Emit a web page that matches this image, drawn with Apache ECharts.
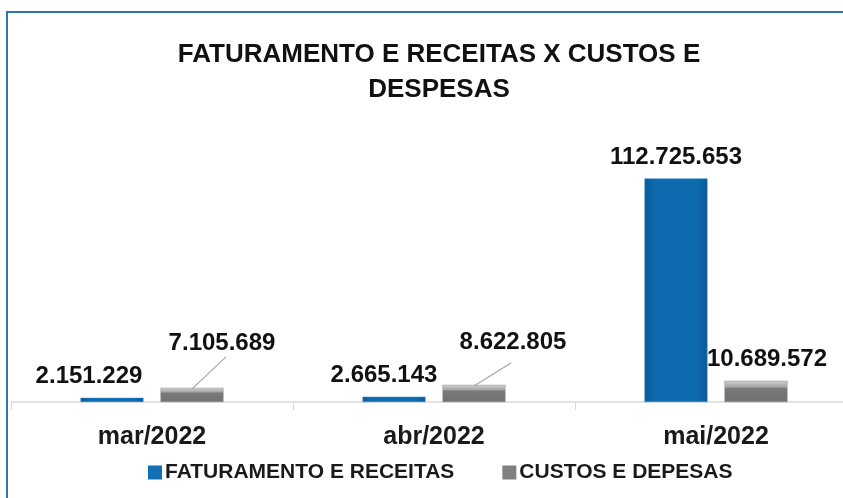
<!DOCTYPE html>
<html>
<head>
<meta charset="utf-8">
<script src="https://cdn.jsdelivr.net/npm/echarts@6/dist/echarts.min.js"></script>
<style>
	html, body { margin: 0; padding: 0; background: #fff; }
	#chart { width: 843px; height: 498px; }
</style>
</head>
<body>
<div id="chart"></div>
<script>
var months = ['mar/2022', 'abr/2022', 'mai/2022'];
var faturamento = [2151229, 2665143, 112725653];
var custos = [7105689, 8622805, 10689572];
var seriesNames = ['FATURAMENTO E RECEITAS', 'CUSTOS E DEPESAS'];

// formata 1234567 -> 1.234.567
function fmt(v) {
	return String(v).replace(/\B(?=(\d{3})+(?!\d))/g, '.');
}

var font = 'Liberation Sans';

var myChart = echarts.init(document.getElementById('chart'));

var blueFill = {
	type: 'linear', x: 0, y: 0, x2: 1, y2: 0,
	colorStops: [
		{ offset: 0, color: '#0b5a96' },
		{ offset: 0.15, color: '#0e6aae' },
		{ offset: 0.85, color: '#0e6aae' },
		{ offset: 1, color: '#0a5894' }
	]
};
var grayFill = {
	type: 'linear', x: 0, y: 0, x2: 0, y2: 1,
	colorStops: [
		{ offset: 0, color: '#d0d0d0' },
		{ offset: 0.3, color: '#a4a4a4' },
		{ offset: 0.35, color: '#7a7a7a' },
		{ offset: 1, color: '#707070' }
	]
};

// deslocamento dos rotulos (como no Excel)
var blueShift = [[-23, 0], [-10, 0], [0, 0]];
var grayShift = [[30, -28], [39, -26], [11, -4]];
// linhas guia: [dx, dy] a partir do topo da barra cinza
var guide = [[34, -31], [37, -22], null];
var barOff = 40;

var option = {
	animation: false,
	title: {
		text: 'FATURAMENTO E RECEITAS X CUSTOS E\nDESPESAS',
		left: 434,
		top: 32,
		textAlign: 'center',
		textStyle: {
			fontFamily: font,
			fontSize: 26,
			fontWeight: 'bold',
			color: '#111',
			lineHeight: 35
		}
	},
	graphic: [{
		type: 'rect',
		shape: { x: 7, y: 12, width: 900, height: 520 },
		style: { fill: 'none', stroke: '#2e75b6', lineWidth: 2 },
		silent: true
	}],
	legend: {
		left: 143,
		top: 457,
		itemWidth: 14,
		itemHeight: 14,
		itemGap: 48,
		itemStyle: { borderWidth: 0 },
		icon: 'rect',
		textStyle: {
			fontFamily: font,
			fontSize: 21,
			fontWeight: 'bold',
			color: '#1a1a1a',
			padding: [0, 0, 0, -2]
		},
		data: [
			{ name: seriesNames[0], itemStyle: { color: '#1470b4' } },
			{ name: seriesNames[1], itemStyle: { color: '#808080' } }
		]
	},
	grid: {
		left: 11,
		width: 846,
		top: 164,
		bottom: 96,
		outerBoundsMode: 'none'
	},
	xAxis: {
		type: 'category',
		data: months,
		axisLine: { lineStyle: { color: '#d9d9d9', width: 1.5 } },
		axisTick: { show: true, length: 8, lineStyle: { color: '#d9d9d9' } },
		axisLabel: {
			margin: 23,
			fontFamily: font,
			fontSize: 25,
			fontWeight: 'bold',
			color: '#1a1a1a'
		}
	},
	yAxis: {
		type: 'value',
		show: false,
		min: 0,
		max: 120000000,
		splitLine: { show: false }
	},
	series: [{
		name: seriesNames[0],
		type: 'bar',
		barWidth: 63,
		barGap: '27%',
		itemStyle: { color: blueFill, borderColor: '#3c93d4', borderWidth: 0.5 },
		label: {
			show: true,
			position: 'top',
			distance: 9,
			fontFamily: font,
			fontSize: 24,
			fontWeight: 'bold',
			color: '#111',
			formatter: function (p) { return fmt(p.value); }
		},
		labelLayout: function (p) {
			return { dx: blueShift[p.dataIndex][0], dy: blueShift[p.dataIndex][1] };
		},
		data: faturamento
	}, {
		name: seriesNames[1],
		type: 'bar',
		barWidth: 63,
		itemStyle: { color: grayFill, borderColor: '#8a8a8a', borderWidth: 0.5 },
		label: {
			show: true,
			position: 'top',
			distance: 5,
			fontFamily: font,
			fontSize: 24,
			fontWeight: 'bold',
			color: '#111',
			formatter: function (p) { return fmt(p.value); }
		},
		labelLayout: function (p) {
			return { dx: grayShift[p.dataIndex][0], dy: grayShift[p.dataIndex][1] };
		},
		data: custos
	}, {
		// linhas guia dos rotulos cinza
		type: 'custom',
		silent: true,
		z: 3,
		data: custos,
		renderItem: function (params, api) {
			var g = guide[params.dataIndex];
			if (!g) return;
			var p = api.coord([params.dataIndex, api.value(0)]);
			var x = p[0] + barOff;
			var y = p[1];
			return {
				type: 'line',
				shape: { x1: x, y1: y + 1, x2: x + g[0], y2: y + g[1] },
				style: { stroke: '#a6a6a6', lineWidth: 1.2 }
			};
		},
		encode: { x: -1, y: 0 }
	}]
};

myChart.setOption(option);
</script>
</body>
</html>
